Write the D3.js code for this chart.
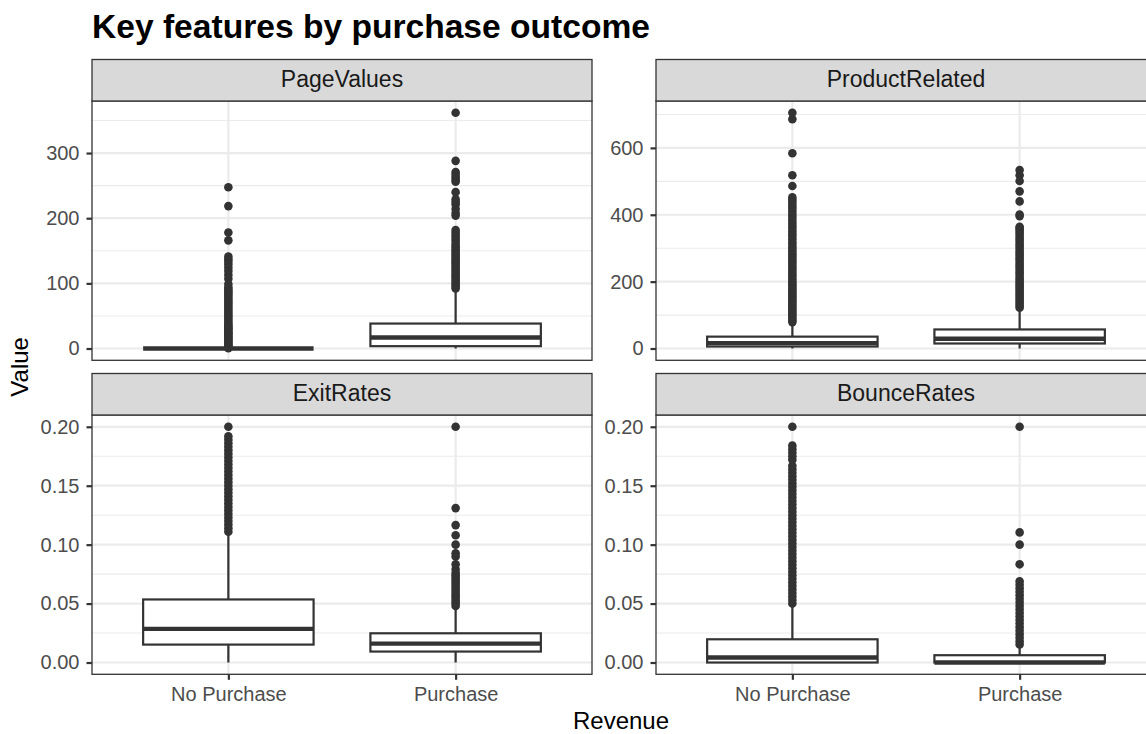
<!DOCTYPE html>
<html>
<head>
<meta charset="utf-8">
<script src="https://cdn.jsdelivr.net/npm/d3@7"></script>
<style>
  html, body { margin: 0; padding: 0; background: #ffffff; }
  svg { display: block; font-family: "Liberation Sans", Arial, Helvetica, sans-serif; }
</style>
</head>
<body>
<svg id="chart" width="1146" height="734"></svg>
<script>
// ---------------- data ----------------
const features = ["PageValues", "ProductRelated", "ExitRates", "BounceRates"];
const groups = ["No Purchase", "Purchase"];

// box statistics per feature: [No Purchase, Purchase]
const whiskerLow = [[0, 0], [0, 0], [0, 0], [0, 0]];
const boxQ1 = [[0, 3.6], [6, 15], [0.0152, 0.0093], [0, 0]];
const boxMedian = [[0, 16.8], [16, 29], [0.0285, 0.016], [0.0042, 0]];
const boxQ3 = [[0, 38.3], [35.5, 57], [0.0535, 0.0248], [0.0197, 0.0062]];
const whiskerHigh = [[0, 91], [78, 118], [0.1099, 0.047], [0.049, 0.0145]];

// outliers
const pageValuesNoOut = [0.4, 1.5, 3, 5, 7, 9, 11, 13, 15, 17, 19, 21, 23, 25, 27, 29, 31, 33, 35, 37, 40, 43, 46, 49, 52, 55, 58, 61, 64, 67, 70, 73, 76, 79, 82, 85, 88, 91, 94, 99, 107, 113, 119, 124, 129, 133, 137, 141, 166, 178, 218.6, 247.4];
const pageValuesYesOut = [92, 95, 98, 101, 104, 107, 110, 113, 116, 119, 122, 125, 128, 131, 134, 137, 140, 143, 146, 149, 152, 155, 158, 162, 166, 170, 174, 178, 182, 204, 208, 214, 221, 225, 229, 240, 256, 259, 263, 267, 271, 288, 361.8];
const productNoOut = [79, 84, 90, 96, 102, 108, 114, 120, 126, 132, 138, 144, 150, 156, 162, 168, 174, 180, 186, 192, 198, 205, 212, 219, 226, 233, 240, 247, 254, 261, 268, 275, 282, 289, 296, 303, 310, 318, 326, 334, 342, 350, 358, 366, 374, 382, 390, 398, 406, 414, 422, 430, 438, 445, 452, 486, 518, 584, 686, 705];
const productYesOut = [122, 128, 134, 140, 146, 152, 158, 164, 170, 176, 182, 188, 194, 200, 207, 214, 221, 228, 235, 242, 249, 256, 263, 270, 277, 284, 291, 298, 305, 312, 319, 326, 333, 340, 347, 354, 360, 364, 396, 401, 440, 470, 501, 518, 534];
const exitNoOut = [0.111, 0.114, 0.117, 0.120, 0.123, 0.126, 0.129, 0.132, 0.135, 0.138, 0.141, 0.144, 0.147, 0.150, 0.153, 0.156, 0.159, 0.162, 0.165, 0.168, 0.171, 0.174, 0.177, 0.180, 0.183, 0.186, 0.189, 0.192, 0.2];
const exitYesOut = [0.048, 0.050, 0.052, 0.054, 0.056, 0.058, 0.060, 0.062, 0.064, 0.066, 0.068, 0.070, 0.072, 0.074, 0.076, 0.079, 0.0834, 0.090, 0.0927, 0.1, 0.108, 0.1166, 0.131, 0.2];
const bounceNoOut = [0.050, 0.053, 0.056, 0.059, 0.062, 0.065, 0.068, 0.071, 0.074, 0.077, 0.080, 0.083, 0.086, 0.089, 0.092, 0.095, 0.098, 0.101, 0.104, 0.107, 0.110, 0.113, 0.116, 0.119, 0.122, 0.125, 0.128, 0.131, 0.134, 0.137, 0.140, 0.143, 0.146, 0.149, 0.152, 0.155, 0.158, 0.161, 0.164, 0.167, 0.172, 0.175, 0.178, 0.181, 0.184, 0.2];
const bounceYesOut = [0.0153, 0.018, 0.021, 0.024, 0.027, 0.030, 0.033, 0.036, 0.039, 0.042, 0.045, 0.048, 0.051, 0.054, 0.057, 0.060, 0.063, 0.066, 0.069, 0.0833, 0.1, 0.1104, 0.2];

// tick labels
const pageValuesTicks = [0, 100, 200, 300];
const productTicks = [0, 200, 400, 600];
const rateTicks = [0, 0.05, 0.10, 0.15, 0.20];

const titleText = "Key features by purchase outcome";
const xTitle = "Revenue";
const yTitle = "Value";

// ---------------- assemble ----------------
const outliers = [
  [pageValuesNoOut, pageValuesYesOut],
  [productNoOut, productYesOut],
  [exitNoOut, exitYesOut],
  [bounceNoOut, bounceYesOut]
];
const ticks = [pageValuesTicks, productTicks, rateTicks, rateTicks];
const tickFormats = [d3.format("d"), d3.format("d"), d3.format(".2f"), d3.format(".2f")];

// ---------------- layout ----------------
const panelLeft = [92, 656];
const panelW = 500;
const stripTop = [59.5, 373.5];
const stripH = 41.5;
const panelH = 259.3;

const ink = "#333333";
const svg = d3.select("#chart");

svg.append("text")
  .attr("x", 92).attr("y", 37.5)
  .attr("font-size", 33.6).attr("font-weight", "bold")
  .attr("fill", "#000")
  .text(titleText);

features.forEach((feat, fi) => {
  const col = fi % 2, row = Math.floor(fi / 2);
  const x0 = panelLeft[col];
  const sTop = stripTop[row];
  const pTop = sTop + stripH;
  const pBot = pTop + panelH;

  const allVals = [].concat(outliers[fi][0], outliers[fi][1], whiskerLow[fi], whiskerHigh[fi]);
  const ext = d3.extent(allVals);
  const pad = (ext[1] - ext[0]) * 0.05;
  const y = d3.scaleLinear().domain([ext[0] - pad, ext[1] + pad]).range([pBot, pTop]);
  const x = d3.scalePoint().domain(groups).range([x0, x0 + panelW]).padding(0.6);
  const step = x.step();
  const boxW = step * 0.75;

  const clipId = "clip" + fi;
  svg.append("clipPath").attr("id", clipId)
    .append("rect").attr("x", x0).attr("y", pTop).attr("width", panelW).attr("height", panelH);

  const g = svg.append("g");
  g.append("rect").attr("x", x0).attr("y", pTop).attr("width", panelW).attr("height", panelH).attr("fill", "#fff");

  const grid = g.append("g").attr("clip-path", `url(#${clipId})`);
  // minor gridlines
  const t = ticks[fi];
  const minor = [];
  for (let i = 0; i < t.length; i++) {
    const d = t[1] - t[0];
    minor.push(t[i] - d / 2);
    if (i === t.length - 1) minor.push(t[i] + d / 2);
  }
  grid.selectAll(".minor").data(minor).join("line")
    .attr("x1", x0).attr("x2", x0 + panelW)
    .attr("y1", d => y(d)).attr("y2", d => y(d))
    .attr("stroke", "#EBEBEB").attr("stroke-width", 1.1);
  grid.selectAll(".major").data(t).join("line")
    .attr("x1", x0).attr("x2", x0 + panelW)
    .attr("y1", d => y(d)).attr("y2", d => y(d))
    .attr("stroke", "#EBEBEB").attr("stroke-width", 2.2);
  grid.selectAll(".vmajor").data(groups).join("line")
    .attr("x1", d => x(d)).attr("x2", d => x(d))
    .attr("y1", pTop).attr("y2", pBot)
    .attr("stroke", "#EBEBEB").attr("stroke-width", 2.2);

  // boxes
  groups.forEach((grp, gi) => {
    const cx = x(grp);
    const bg = g.append("g");
    bg.selectAll("circle").data(outliers[fi][gi]).join("circle")
      .attr("cx", cx).attr("cy", d => y(d)).attr("r", 4.3)
      .attr("fill", ink);
    // whiskers
    bg.append("line").attr("x1", cx).attr("x2", cx)
      .attr("y1", y(boxQ3[fi][gi])).attr("y2", y(whiskerHigh[fi][gi]))
      .attr("stroke", ink).attr("stroke-width", 2.2);
    bg.append("line").attr("x1", cx).attr("x2", cx)
      .attr("y1", y(boxQ1[fi][gi])).attr("y2", y(whiskerLow[fi][gi]))
      .attr("stroke", ink).attr("stroke-width", 2.2);
    // box
    bg.append("rect")
      .attr("x", cx - boxW / 2).attr("width", boxW)
      .attr("y", y(boxQ3[fi][gi]))
      .attr("height", Math.max(0, y(boxQ1[fi][gi]) - y(boxQ3[fi][gi])))
      .attr("fill", "#fff").attr("stroke", ink).attr("stroke-width", 2.2);
    bg.append("line")
      .attr("x1", cx - boxW / 2).attr("x2", cx + boxW / 2)
      .attr("y1", y(boxMedian[fi][gi])).attr("y2", y(boxMedian[fi][gi]))
      .attr("stroke", ink).attr("stroke-width", 4.4);
  });

  // panel border
  g.append("rect").attr("x", x0).attr("y", pTop).attr("width", panelW).attr("height", panelH)
    .attr("fill", "none").attr("stroke", ink).attr("stroke-width", 1.3);

  // strip
  g.append("rect").attr("x", x0).attr("y", sTop).attr("width", panelW).attr("height", stripH)
    .attr("fill", "#D9D9D9").attr("stroke", ink).attr("stroke-width", 1.3);
  g.append("text")
    .attr("x", x0 + panelW / 2).attr("y", sTop + 27.8)
    .attr("text-anchor", "middle").attr("font-size", 23).attr("fill", "#1A1A1A")
    .text(feat);

  // y axis
  const ya = g.append("g").attr("transform", `translate(${x0},0)`)
    .call(d3.axisLeft(y).tickValues(t).tickFormat(tickFormats[fi]).tickSize(5.5).tickPadding(7));
  ya.select(".domain").remove();
  ya.selectAll(".tick line").attr("stroke", ink).attr("stroke-width", 2.2);
  ya.selectAll(".tick text").attr("font-size", 20).attr("fill", "#4D4D4D")
    .attr("font-family", "Liberation Sans, Arial, sans-serif");

  // x axis (bottom row only)
  if (row === 1) {
    const xa = g.append("g").attr("transform", `translate(0,${pBot})`)
      .call(d3.axisBottom(x).tickSize(5.5).tickPadding(7));
    xa.select(".domain").remove();
    xa.selectAll(".tick line").attr("stroke", ink).attr("stroke-width", 2.2);
    xa.selectAll(".tick text").attr("font-size", 20).attr("fill", "#4D4D4D")
      .attr("font-family", "Liberation Sans, Arial, sans-serif");
  }
});

// axis titles
svg.append("text")
  .attr("x", (panelLeft[0] + panelLeft[1] + panelW) / 2 - 3).attr("y", 729)
  .attr("text-anchor", "middle").attr("font-size", 24).attr("fill", "#000")
  .text(xTitle);
svg.append("text")
  .attr("transform", `translate(28,${(stripTop[0] + stripTop[1] + stripH + panelH) / 2}) rotate(-90)`)
  .attr("text-anchor", "middle").attr("font-size", 24).attr("fill", "#000")
  .text(yTitle);
</script>
</body>
</html>
